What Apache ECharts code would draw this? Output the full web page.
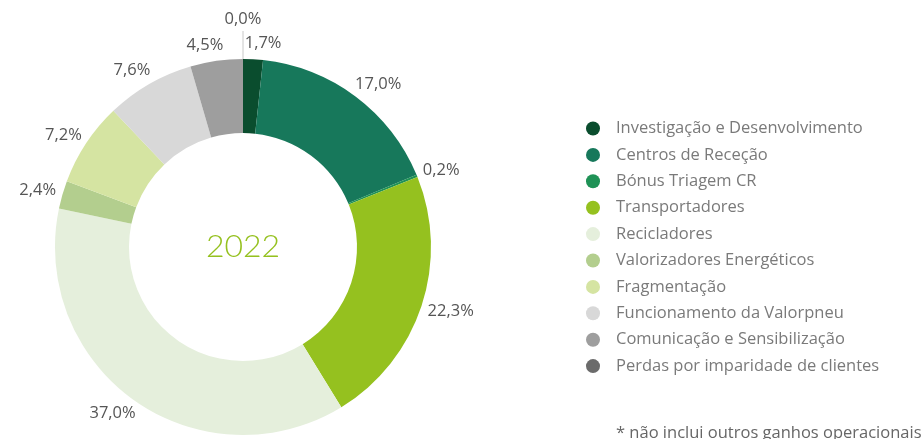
<!DOCTYPE html>
<html lang="pt">
<head>
<meta charset="utf-8" />
<title>2022</title>
<script src="https://cdn.jsdelivr.net/npm/echarts@6/dist/echarts.min.js"></script>
<style>
  html, body { margin: 0; padding: 0; background: #fff; }
  #chart { width: 921px; height: 439px; }
</style>
</head>
<body>
<div id="chart"></div>
<script type="text/javascript">
// categorias e valores (%)
var categorias = [
  'Investigação e Desenvolvimento',
  'Centros de Receção',
  'Bónus Triagem CR',
  'Transportadores',
  'Recicladores',
  'Valorizadores Energéticos',
  'Fragmentação',
  'Funcionamento da Valorpneu',
  'Comunicação e Sensibilização',
  'Perdas por imparidade de clientes'
];
var valores = [1.7, 17.0, 0.2, 22.3, 37.0, 2.4, 7.2, 7.6, 4.5, 0.0];
var cores = ['#0a4d2e', '#17785b', '#1f9256', '#95c11f', '#e5efdc',
             '#b3ce8e', '#d5e4a2', '#d8d8d8', '#9e9e9e', '#6b6b6b'];
var ano = '2022';
var nota = '* não inclui outros ganhos operacionais';

var CX = 243, CY = 247, R0 = 114, R = 188;
var FONT = '"Open Sans", sans-serif';

var chart = echarts.init(document.getElementById('chart'));

function fmt(v) {
  return v.toFixed(1).replace('.', ',') + '%';
}

var dados = categorias.map(function (c, i) {
  var item = { name: c, value: valores[i], itemStyle: { color: cores[i] } };
  if (valores[i] === 0) {
    item.labelLine = { show: true, length: 26, length2: 0, lineStyle: { color: '#c8c8c8', width: 1 } };
  }
  return item;
});

var option = {
  backgroundColor: '#fff',
  animation: false,
  legend: {
    orient: 'vertical',
    left: 581,
    top: 115,
    icon: 'circle',
    itemWidth: 14,
    itemHeight: 14,
    itemGap: 9.4,
    selectedMode: false,
    textStyle: { color: '#7a7a7a', fontSize: 16.5, fontFamily: FONT, padding: [0, 0, 0, 11] },
    data: categorias
  },
  graphic: [
    {
      type: 'text', x: CX, y: CY,
      style: { text: ano, fill: '#95c11f', fontSize: 32, fontFamily: 'Lato', fontWeight: 300,
               align: 'center', verticalAlign: 'middle' }
    },
    {
      type: 'text', x: 616, y: 433,
      style: { text: nota, fill: '#666', fontSize: 16.5, fontFamily: FONT, verticalAlign: 'middle' }
    }
  ],
  series: [{
    type: 'pie',
    center: [CX, CY],
    radius: [R0, R],
    startAngle: 90,
    clockwise: true,
    avoidLabelOverlap: false,
    itemStyle: { borderWidth: 0 },
    label: {
      show: true,
      position: 'outside',
      color: '#555',
      fontSize: 16.5,
      fontFamily: FONT,
      formatter: function (p) { return fmt(p.value); }
    },
    labelLine: { show: false, length: 8, length2: 0 },
    labelLayout: function (p) {
      var p0 = p.labelLinePoints[0];
      var ux = (p0[0] - CX) / R, uy = (p0[1] - CY) / R;
      var w = p.labelRect.width, h = p.labelRect.height;
      if (valores[p.dataIndex] === 0) {
        var top = [p0[0], p0[1] - 28];
        return {
          x: p0[0], y: top[1] - 12, align: 'center', verticalAlign: 'middle',
          labelLinePoints: [p0, top, top]
        };
      }
      var d = R + 7;
      var kx = 0.5 * (ux >= 0 ? 1 : -1) + 0.5 * ux;
      return {
        x: CX + ux * d + kx * w / 2,
        y: CY + uy * d + uy * h / 2,
        align: 'center',
        verticalAlign: 'middle'
      };
    },
    emphasis: { disabled: true },
    data: dados
  }]
};

chart.setOption(option);
</script>
</body>
</html>
